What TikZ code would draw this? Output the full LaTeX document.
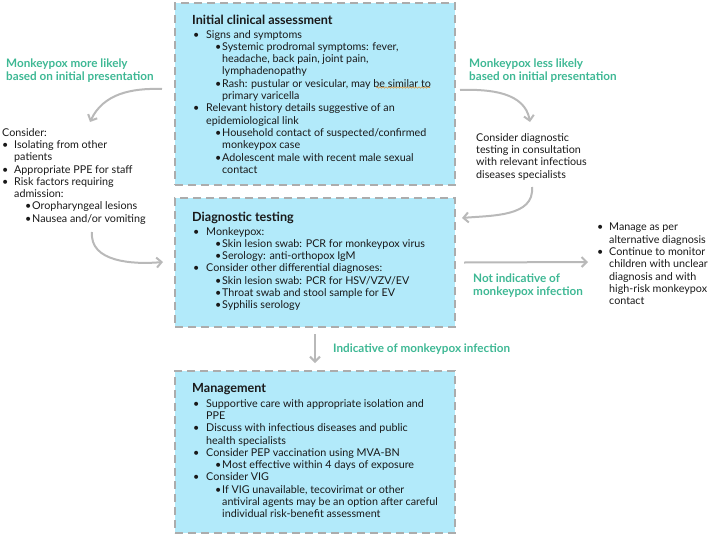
\documentclass[tikz,border=0pt]{standalone}
\usepackage{fontspec}
\setmainfont{Lato}
\usetikzlibrary{arrows.meta,decorations.pathmorphing}
\definecolor{boxfill}{RGB}{178,234,250}
\definecolor{boxline}{RGB}{172,172,172}
\definecolor{grn}{RGB}{62,184,148}
\definecolor{arr}{RGB}{185,185,185}
\definecolor{txt}{RGB}{25,25,25}
\definecolor{squigc}{RGB}{225,150,60}
\newcommand\lvA[1]{\hspace*{1pt}\makebox[13pt][l]{•}#1}
\newcommand\lvAc[1]{\hspace*{14pt}#1}
\newcommand\lvB[1]{\hspace*{23pt}\makebox[7pt][l]{•}#1}
\newcommand\lvBc[1]{\hspace*{30pt}#1}
\newcommand\ttl[1]{{\bfseries\fontsize{12.6}{12.3}\selectfont #1}}
\begin{document}
\begin{tikzpicture}[x=1pt,y=-1pt,
 box/.style={draw=boxline,fill=boxfill,line width=2pt,dash pattern=on 8pt off 5pt,anchor=north west,inner sep=0pt,minimum width=280pt},
 body/.style={inner sep=0pt,anchor=north west,align=left,text=txt,font=\fontsize{10.75}{12.3}\selectfont},
 lbl/.style={inner sep=0pt,anchor=north west,align=left,text=grn,font=\bfseries\fontsize{11.7}{12.3}\selectfont},
 conn/.style={draw=arr,line width=2pt,-{Straight Barb[length=5pt,width=10pt]}}]
\useasboundingbox (0,0) rectangle (709,533);

% boxes
\node[box,minimum height=182pt] (init) at (174,2) {};
\node[box,minimum height=129pt] (diag) at (174,197) {};
\node[box,minimum height=162pt] (mgmt) at (174,370) {};

% box texts
\node[body] (initT) at (192,14.5) {\ttl{Initial clinical assessment}\\[1.7pt]
\lvA{Signs and symptoms}\\
\lvB{Systemic prodromal symptoms: fever,}\\
\lvBc{headache, back pain, joint pain,}\\
\lvBc{lymphadenopathy}\\
\lvB{Rash: pustular or vesicular, may be similar to}\\
\lvBc{primary varicella}\\
\lvA{Relevant history details suggestive of an}\\
\lvAc{epidemiological link}\\
\lvB{Household contact of suspected/confirmed}\\
\lvBc{monkeypox case}\\
\lvB{Adolescent male with recent male sexual}\\
\lvBc{contact}};

\node[body] (diagT) at (192,211.5) {\ttl{Diagnostic testing}\\[1.7pt]
\lvA{Monkeypox:}\\
\lvB{Skin lesion swab: PCR for monkeypox virus}\\
\lvB{Serology: anti-orthopox IgM}\\
\lvA{Consider other differential diagnoses:}\\
\lvB{Skin lesion swab: PCR for HSV/VZV/EV}\\
\lvB{Throat swab and stool sample for EV}\\
\lvB{Syphilis serology}};

\node[body] (mgmtT) at (192,383) {\ttl{Management}\\[2.5pt]
\lvA{Supportive care with appropriate isolation and}\\
\lvAc{PPE}\\
\lvA{Discuss with infectious diseases and public}\\
\lvAc{health specialists}\\
\lvA{Consider PEP vaccination using MVA-BN}\\
\lvB{Most effective within 4 days of exposure}\\
\lvA{Consider VIG}\\
\lvB{If VIG unavailable, tecovirimat or other}\\
\lvBc{antiviral agents may be an option after careful}\\
\lvBc{individual risk-benefit assessment}};

% side labels and texts
\node[lbl] (moreL) at (6,59) {Monkeypox more likely\\based on initial presentation};
\node[lbl] (lessL) at (469,59) {Monkeypox less likely\\based on initial presentation};
\node[body] (consider) at (2,128) {Consider:\\
\makebox[12pt][l]{•}Isolating from other\\
\hspace*{12pt}patients\\
\makebox[12pt][l]{•}Appropriate PPE for staff\\
\makebox[12pt][l]{•}Risk factors requiring\\
\hspace*{12pt}admission:\\
\hspace*{23pt}\makebox[7pt][l]{•}Oropharyngeal lesions\\
\hspace*{23pt}\makebox[7pt][l]{•}Nausea and/or vomiting};
\node[body] (consult) at (476,133) {Consider diagnostic\\testing in consultation\\with relevant infectious\\diseases specialists};
\node[body] (alt) at (597,223) {\makebox[12pt][l]{•}Manage as per\\
\hspace*{12pt}alternative diagnosis\\
\makebox[12pt][l]{•}Continue to monitor\\
\hspace*{12pt}children with unclear\\
\hspace*{12pt}diagnosis and with\\
\hspace*{12pt}high-risk monkeypox\\
\hspace*{12pt}contact};
\node[lbl] (notL) at (473,274) {Not indicative of\\monkeypox infection};
\node[lbl] (indL) at (333,344) {Indicative of monkeypox infection};

% spellcheck squiggle
\draw[squigc,line width=0.6pt,decorate,decoration={snake,amplitude=0.7pt,segment length=3pt}] (376,87.5) -- (430,87.5);

% connector end points
\coordinate (a1s) at (162,89);
\coordinate (a1e) at (90,122);
\coordinate (a2s) at (92,232);
\coordinate (a2e) at (163,262);
\coordinate (b1s) at (460,90);
\coordinate (b1e) at (530,122);
\coordinate (b2s) at (532,187);
\coordinate (b2e) at (462,218);
\coordinate (c1e) at (588,262);

\draw[conn] (a1s) to[out=178,in=65] (a1e);
\draw[conn] (a2s) to[out=-95,in=185] (a2e);
\draw[conn] (b1s) to[out=2,in=100] (b1e);
\draw[conn] (b2s) to[out=-85,in=5] (b2e);
\draw[conn] ([xshift=8pt]diag.east) -- (c1e);
\draw[conn] ([yshift=-6pt]diag.south) -- ([yshift=7pt]mgmt.north);
\end{tikzpicture}
\end{document}
